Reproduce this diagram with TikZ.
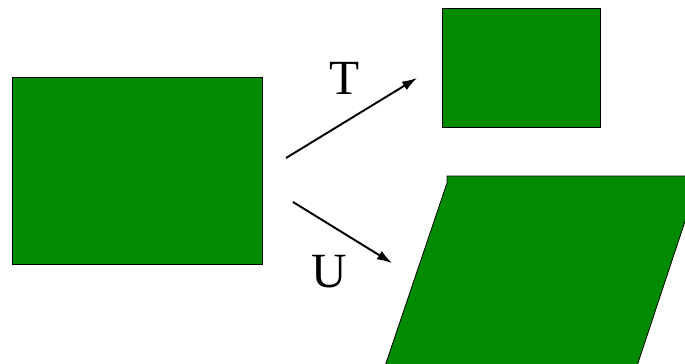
\documentclass[tikz,border=0pt]{standalone}
\usepackage{fontspec}
\setmainfont{Liberation Serif}
\usetikzlibrary{arrows.meta}
\definecolor{sqgreen}{RGB}{0,139,0}

\begin{document}
\begin{tikzpicture}[x=0.02cm,y=-0.02cm,
  greenpatch/.style={fill=sqgreen,draw=black,line width=0.45pt},
  map/.style={line width=1.1pt,-{Latex[length=8.5pt,width=5.6pt]}},
  lbl/.style={font=\fontsize{28}{30}\selectfont,inner sep=0pt}]
\clip (0,0) rectangle (685,363);
\fill[white] (0,0) rectangle (685,363);
% original square
\draw[greenpatch] (12,77) rectangle (262,264);
% image under T
\draw[greenpatch] (442,8) rectangle (600,127);
% image under U
\draw[greenpatch] (447,176) -- (700,176) -- (635,372) -- (383,372) -- (447,183) -- cycle;
\coordinate (t0) at (286,158);
\coordinate (t1) at (417,78);
\coordinate (u0) at (293,202);
\coordinate (u1) at (392,263);
\draw[map] (t0) -- (t1);
\draw[map] (u0) -- (u1);
\node[lbl] (T) at (345,78) {T};
\node[lbl] (U) at (329,272) {U};
\end{tikzpicture}
\end{document}
